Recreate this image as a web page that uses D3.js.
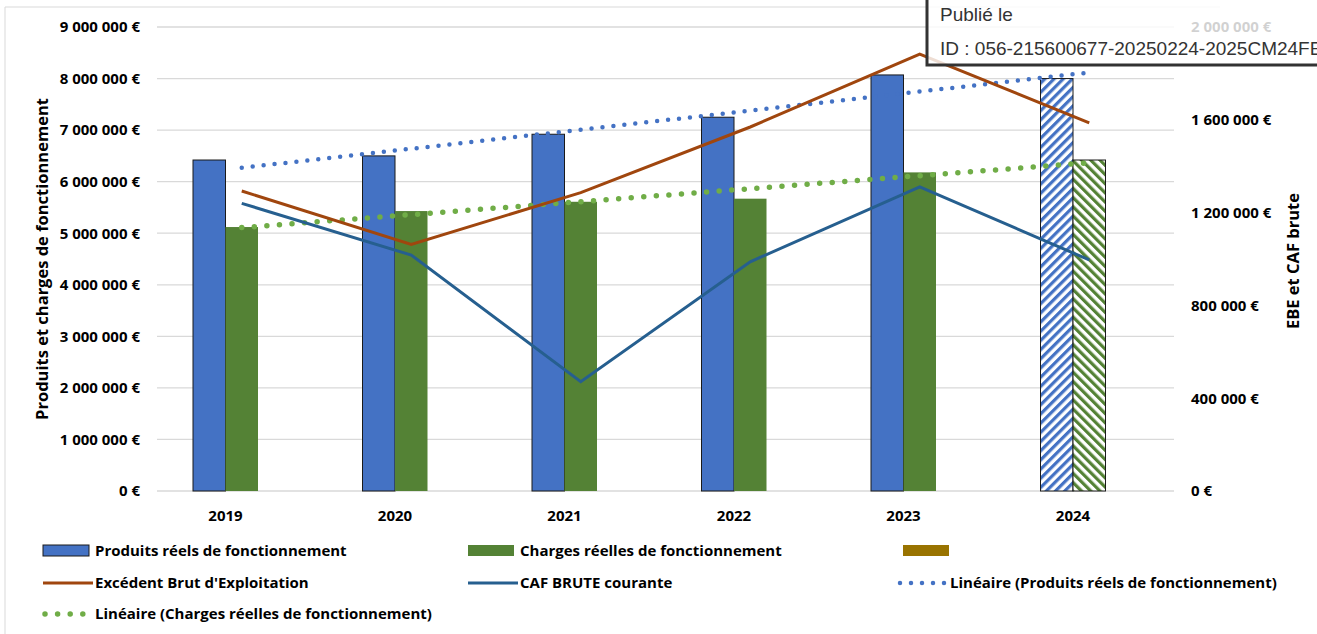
<!DOCTYPE html>
<html>
<head>
<meta charset="utf-8">
<script src="https://cdn.jsdelivr.net/npm/d3@7"></script>
<style>
  body { margin: 0; background: #fff; }
  svg { display: block; font-family: 'Open Sans', Lato, sans-serif; }
  .tick line, .domain { display: none; }
</style>
</head>
<body>
<div class="visual"></div>
<script>
const [width, height] = [1317, 634];
const years = ['2019', '2020', '2021', '2022', '2023', '2024'];
const produits = [6420000, 6500000, 6920000, 7250000, 8070000, 8000000];
const charges = [5120000, 5430000, 5610000, 5670000, 6180000, 6420000];
const ebe = [1293000, 1063000, 1286000, 1569000, 1883000, 1587000];
const caf = [1240000, 1017000, 471000, 988000, 1311000, 996000];
const left_ticks = d3.range(0, 9000001, 1000000);
const right_ticks = d3.range(0, 2000001, 400000);
const estimated = '2024';

const plot = { left: 157, right: 1174, top: 27, bottom: 491 };
const colors = {
  produits: '#4472C4',
  charges: '#548235',
  gold: '#997300',
  ebe: '#A0460E',
  caf: '#265F8F',
  trend_p: '#4472C4',
  trend_c: '#70AD47',
  grid: '#D9D9D9',
};
const FONT = "'Open Sans', Lato, sans-serif";

const locale = d3.formatLocale({
  decimal: ',',
  thousands: ' ',
  grouping: [3],
  currency: ['', ' €'],
});
const euro = locale.format('$,.0f');

const svg = d3
  .select('.visual')
  .append('svg')
  .attr('width', width)
  .attr('height', height);

svg.append('rect').attr('width', width).attr('height', height).attr('fill', '#fff');

// chart frame (left + top edges visible)
svg.append('line').attr('x1', 5).attr('x2', 5).attr('y1', 7).attr('y2', height)
  .attr('stroke', colors.grid);
svg.append('line').attr('x1', 5).attr('x2', 1220).attr('y1', 7).attr('y2', 7)
  .attr('stroke', colors.grid);

// pattern fills for the 2024 estimate
const defs = svg.append('defs');
const hatch = (id, color, angle) => {
  const p = defs.append('pattern')
    .attr('id', id)
    .attr('patternUnits', 'userSpaceOnUse')
    .attr('width', 6.5)
    .attr('height', 6.5)
    .attr('patternTransform', `rotate(${angle})`);
  p.append('rect').attr('width', 6.5).attr('height', 6.5).attr('fill', '#fff');
  p.append('rect').attr('width', 3.2).attr('height', 6.5).attr('fill', color);
};
hatch('hatch-blue', colors.produits, 45);
hatch('hatch-green', colors.charges, -45);

const x = d3.scaleBand().domain(years).range([plot.left, plot.right]);
const bar_w = 32.5;
const y_left = d3.scaleLinear().domain([0, 9000000]).range([plot.bottom, plot.top]);
const y_right = d3.scaleLinear().domain([0, 2000000]).range([plot.bottom, plot.top]);
const cx = (yr) => x(yr) + x.bandwidth() / 2;

// gridlines
svg.append('g')
  .selectAll('line')
  .data(left_ticks)
  .enter()
  .append('line')
  .attr('x1', plot.left)
  .attr('x2', plot.right)
  .attr('y1', (d) => y_left(d))
  .attr('y2', (d) => y_left(d))
  .attr('stroke', colors.grid)
  .attr('stroke-width', 1.3);

// bars: 3 slots per year (produits, charges, empty gold series)
const bars = svg.append('g');
bars.selectAll('rect.p')
  .data(produits)
  .enter()
  .append('rect')
  .attr('class', 'p')
  .attr('x', (d, i) => cx(years[i]) - bar_w * 1.5)
  .attr('y', (d) => y_left(d))
  .attr('width', bar_w)
  .attr('height', (d) => y_left(0) - y_left(d))
  .attr('fill', (d, i) => (years[i] === estimated ? 'url(#hatch-blue)' : colors.produits))
  .attr('stroke', '#1a1a1a')
  .attr('stroke-width', 1);

bars.selectAll('rect.c')
  .data(charges)
  .enter()
  .append('rect')
  .attr('class', 'c')
  .attr('x', (d, i) => cx(years[i]) - bar_w * 0.5)
  .attr('y', (d) => y_left(d))
  .attr('width', bar_w)
  .attr('height', (d) => y_left(0) - y_left(d))
  .attr('fill', (d, i) => (years[i] === estimated ? 'url(#hatch-green)' : colors.charges))
  .attr('stroke', (d, i) => (years[i] === estimated ? '#1a1a1a' : 'none'))
  .attr('stroke-width', 1);

// linear trend lines (least squares over the years)
const trend = (values) => {
  const n = values.length;
  const xm = (n - 1) / 2;
  const ym = d3.mean(values);
  const num = d3.sum(values, (v, i) => (i - xm) * (v - ym));
  const den = d3.sum(values, (v, i) => (i - xm) * (i - xm));
  const slope = num / den;
  return [ym - slope * xm, ym + slope * (n - 1 - xm)];
};

const drawTrend = (values, color, w, gap) => {
  const [a, b] = trend(values);
  svg.append('line')
    .attr('x1', cx(years[0]))
    .attr('x2', cx(years[years.length - 1]))
    .attr('y1', y_left(a))
    .attr('y2', y_left(b))
    .attr('stroke', color)
    .attr('stroke-width', w)
    .attr('stroke-linecap', 'round')
    .attr('stroke-dasharray', `0 ${gap}`);
};
drawTrend(produits, colors.trend_p, 4.5, 11);
drawTrend(charges, colors.trend_c, 5.5, 12.6);

// EBE and CAF lines on right axis
const line = d3.line()
  .x((d, i) => cx(years[i]))
  .y((d) => y_right(d));

svg.append('path').datum(ebe).attr('d', line)
  .attr('fill', 'none').attr('stroke', colors.ebe).attr('stroke-width', 3);
svg.append('path').datum(caf).attr('d', line)
  .attr('fill', 'none').attr('stroke', colors.caf).attr('stroke-width', 3);

// axes
const left_axis = svg.append('g')
  .attr('transform', `translate(${plot.left}, 0)`)
  .call(d3.axisLeft(y_left).tickValues(left_ticks).tickFormat(euro).tickSize(0).tickPadding(17));

const right_axis = svg.append('g')
  .attr('transform', `translate(${plot.right}, 0)`)
  .call(d3.axisRight(y_right).tickValues(right_ticks).tickFormat(euro).tickSize(0).tickPadding(17));

const x_axis = svg.append('g')
  .attr('transform', `translate(${-bar_w / 2}, ${plot.bottom})`)
  .call(d3.axisBottom(x).tickSize(0).tickPadding(19));

[left_axis, right_axis, x_axis].forEach((g) => {
  g.selectAll('text')
    .attr('font-family', FONT)
    .attr('font-size', 15)
    .attr('font-weight', 'bold')
    .attr('fill', '#000');
});

svg.append('text')
  .attr('transform', 'rotate(-90)')
  .attr('x', -259)
  .attr('y', 48)
  .attr('text-anchor', 'middle')
  .attr('font-size', 16.5)
  .attr('font-weight', 'bold')
  .text('Produits et charges de fonctionnement');

svg.append('text')
  .attr('transform', 'rotate(-90)')
  .attr('x', -261)
  .attr('y', 1299)
  .attr('text-anchor', 'middle')
  .attr('font-size', 16.5)
  .attr('font-weight', 'bold')
  .text('EBE et CAF brute');

// legend
const legend = svg.append('g').attr('font-size', 15).attr('font-weight', 'bold');
const legendItems = [
  { col: 43, row: 551, type: 'rect', fill: colors.produits, stroke: '#1a1a1a', label: 'Produits réels de fonctionnement' },
  { col: 468, row: 551, type: 'rect', fill: colors.charges, label: 'Charges réelles de fonctionnement' },
  { col: 903, row: 551, type: 'rect', fill: colors.gold, label: '' },
  { col: 43, row: 583, type: 'line', stroke: colors.ebe, label: "Excédent Brut d'Exploitation" },
  { col: 468, row: 583, type: 'line', stroke: colors.caf, label: 'CAF BRUTE courante' },
  { col: 898, row: 583, type: 'dots', stroke: colors.trend_p, w: 4.5, gap: 11, label: 'Linéaire (Produits réels de fonctionnement)' },
  { col: 43, row: 614, type: 'dots', stroke: colors.trend_c, w: 5.5, gap: 12.6, label: 'Linéaire (Charges réelles de fonctionnement)' },
];

legendItems.forEach((it) => {
  if (it.type === 'rect') {
    legend.append('rect')
      .attr('x', it.col).attr('y', it.row - 6)
      .attr('width', 46).attr('height', 11)
      .attr('fill', it.fill)
      .attr('stroke', it.stroke || 'none');
  } else if (it.type === 'line') {
    legend.append('line')
      .attr('x1', it.col).attr('x2', it.col + 50)
      .attr('y1', it.row).attr('y2', it.row)
      .attr('stroke', it.stroke).attr('stroke-width', 3);
  } else {
    legend.append('line')
      .attr('x1', it.col + 2).attr('x2', it.col + 48)
      .attr('y1', it.row).attr('y2', it.row)
      .attr('stroke', it.stroke).attr('stroke-width', it.w)
      .attr('stroke-linecap', 'round')
      .attr('stroke-dasharray', `0 ${it.gap}`);
  }
  legend.append('text')
    .attr('x', it.col + 52)
    .attr('y', it.row + 5)
    .text(it.label);
});

// overlay stamp box (semi transparent)
const stamp = svg.append('g');
stamp.append('rect')
  .attr('x', 927).attr('y', -5)
  .attr('width', 420).attr('height', 70)
  .attr('fill', '#fff').attr('fill-opacity', 0.82)
  .attr('stroke', '#333').attr('stroke-width', 3);
stamp.append('text')
  .attr('x', 940).attr('y', 21)
  .attr('font-family', "'Liberation Sans', Arial, sans-serif")
  .attr('font-size', 19)
  .attr('fill', '#333')
  .text('Publié le');
stamp.append('text')
  .attr('x', 940).attr('y', 55)
  .attr('font-family', "'Liberation Sans', Arial, sans-serif")
  .attr('font-size', 19)
  .attr('fill', '#333')
  .text('ID : 056-215600677-20250224-2025CM24FEV-DE');
</script>
</body>
</html>
